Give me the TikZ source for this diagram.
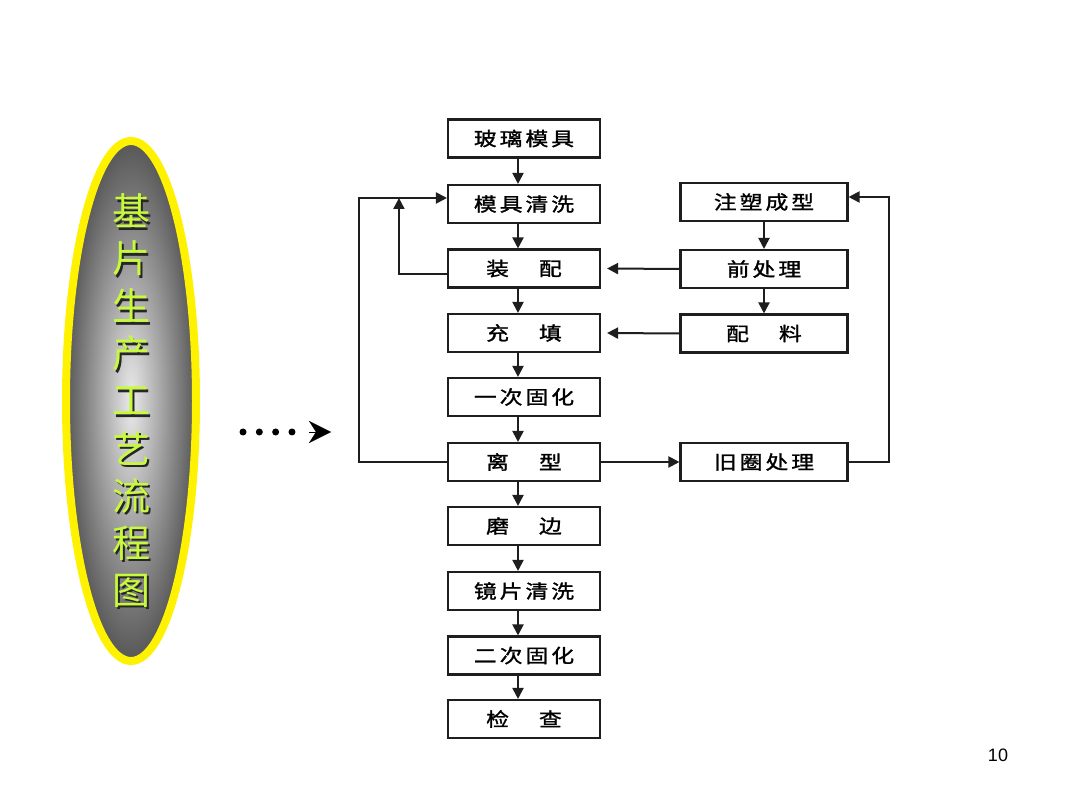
\documentclass[tikz,border=0pt]{standalone}
\usepackage{fontspec}
\setmainfont{Liberation Sans}
\newfontfamily\cjk{Noto Sans CJK SC}
\newfontfamily\cjkb[FakeBold=1.2]{Noto Sans CJK SC}
\usetikzlibrary{arrows.meta,calc,shapes.geometric}
\definecolor{txtgreen}{RGB}{200,250,60}
\definecolor{linec}{RGB}{30,30,30}
\newcommand{\bx}[1]{\scalebox{1.2}[1]{#1}}
\newcommand{\gp}{\hspace{2.5pt}}
\newcommand{\wg}{\hspace{25pt}}
\newcommand{\shch}[1]{\makebox[0pt][l]{\raisebox{-2.5pt}{\hspace{2.5pt}\textcolor{black!85}{#1}}}\textcolor{txtgreen}{#1}}
\begin{document}
\begin{tikzpicture}[x=1pt,y=-1pt,
  box/.style={draw=linec, line width=2.1pt, fill=white, minimum width=152pt, minimum height=38pt, inner sep=0pt, font=\cjkb\fontsize{19}{19}\selectfont},
  rbox/.style={box, minimum width=167pt},
  arr/.style={draw=linec, line width=2pt, -{Triangle[length=11pt,width=11pt]}},
  vtxt/.style={font=\cjk\fontsize{38}{38}\selectfont, inner sep=0pt},
  dotline/.style={line width=7pt, line cap=round, dash pattern=on 0pt off 16.33pt}
]
\useasboundingbox (0,0) rectangle (1080,810);
\fill[white] (0,0) rectangle (1080,810);

% oval
\node[ellipse, draw=yellow, line width=8pt, inner color=black!8, outer color=black!66,
  minimum width=130pt, minimum height=520pt, inner sep=0pt] (oval) at (131,401) {};
\foreach \ch [count=\i from 0] in {基,片,生,产,工,艺,流,程,图}{
  \node[vtxt] (ch\i) at (131,212+47.5*\i) {\shch{\ch}};
}

% dotted pointer
\coordinate (d0) at (243,432);
\coordinate (d1) at (292.2,432);
\coordinate (t0) at (309,432);
\coordinate (t1) at (331,432);
\draw[dotline] (d0) -- (d1);
\draw[line width=0.1pt, -{Stealth[length=22pt,width=22pt,inset=7pt]}] (t0) -- (t1);

% left column
\node[box] (m1) at (524,138.5) {\bx{玻\gp 璃\gp 模\gp 具}};
\node[box] (m2) at (524,204) {\bx{模\gp 具\gp 清\gp 洗}};
\node[box] (m3) at (524,268.5) {\bx{装\wg 配}};
\node[box] (m4) at (524,333) {\bx{充\wg 填}};
\node[box] (m5) at (524,397) {\bx{一\gp 次\gp 固\gp 化}};
\node[box] (m6) at (524,462) {\bx{离\wg 型}};
\node[box] (m7) at (524,526) {\bx{磨\wg 边}};
\node[box] (m8) at (524,591) {\bx{镜\gp 片\gp 清\gp 洗}};
\node[box] (m9) at (524,655.5) {\bx{二\gp 次\gp 固\gp 化}};
\node[box] (m10) at (524,719) {\bx{检\wg 查}};

% right column
\node[rbox] (r1) at (764,202) {\bx{注\gp 塑\gp 成\gp 型}};
\node[rbox] (r2) at (764,269) {\bx{前\gp 处\gp 理}};
\node[rbox] (r3) at (764,333.5) {\bx{配\wg 料}};
\node[rbox] (r4) at (764,462) {\bx{旧\gp 圈\gp 处\gp 理}};

% vertical arrows left
\foreach \a/\b in {m1/m2,m2/m3,m3/m4,m4/m5,m5/m6,m6/m7,m7/m8,m8/m9,m9/m10}{
  \draw[arr] ([xshift=-6pt]\a.south) -- ([xshift=-6pt]\b.north);
}
% vertical arrows right
\draw[arr] (r1.south) -- (r2.north);
\draw[arr] (r2.south) -- (r3.north);

% horizontal arrows
\draw[arr] (r2.west) -- ([xshift=6pt]m3.east);
\draw[arr] (r3.west) -- ([xshift=6pt]m4.east);
\draw[arr] (m6.east) -- (r4.west);

% loops
\draw[arr] (m6.west) -- ++(-88,0) |- ([yshift=6pt]m2.west);
\draw[arr] ([yshift=-6pt]m3.west) -| ($([yshift=6pt]m2.west)+(-48,0)$);
\draw[arr] (r4.east) -- ++(40,0) |- ([yshift=5pt]r1.east);

% page number
\node[font=\fontsize{18}{18}\selectfont, inner sep=0pt] (pg) at (998,755) {10};
\end{tikzpicture}
\end{document}
